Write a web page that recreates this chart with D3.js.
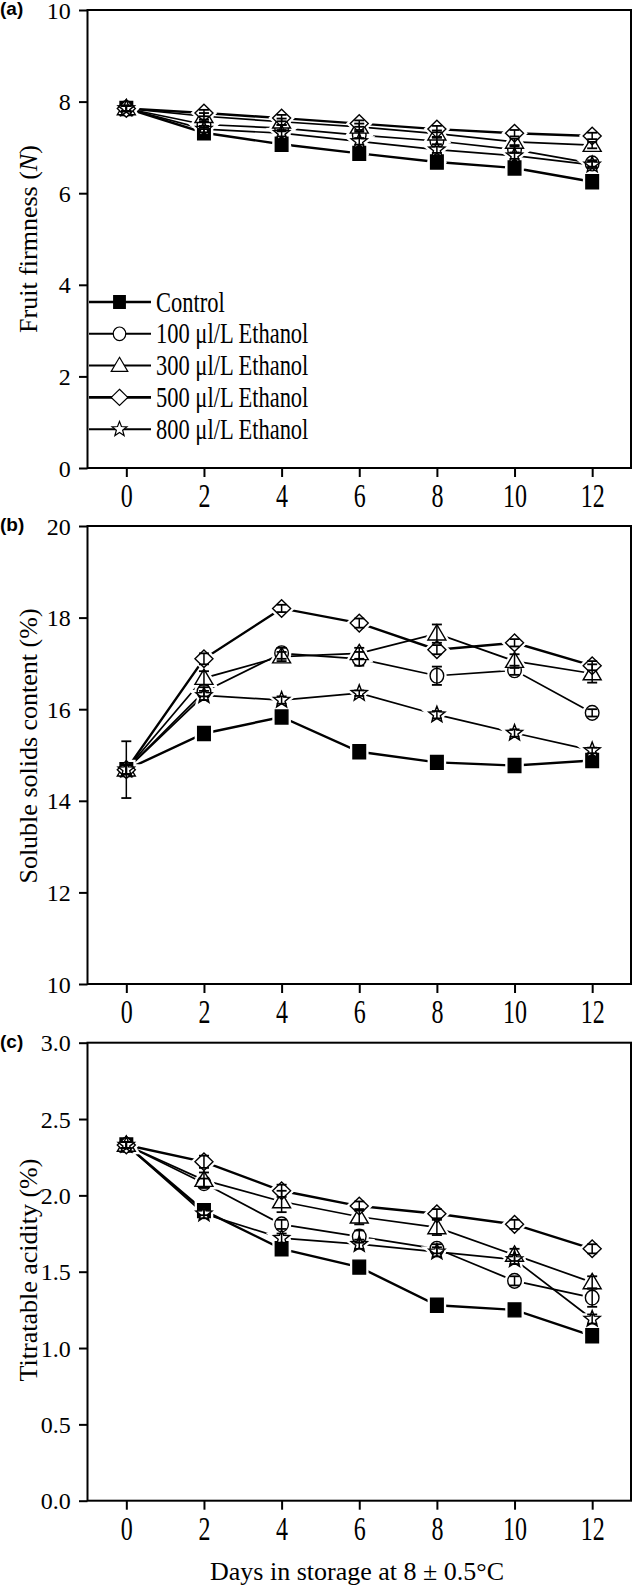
<!DOCTYPE html>
<html>
<head>
<meta charset="utf-8">
<script src="https://cdn.jsdelivr.net/npm/d3@7"></script>
<style>
  body { margin: 0; background: #fff; }
  svg { display: block; }
</style>
</head>
<body>
<svg id="chart"></svg>
<script>
// storage days (x)
const days = [0, 2, 4, 6, 8, 10, 12]
const seriesNames = ['Control', '100 μl/L Ethanol', '300 μl/L Ethanol', '500 μl/L Ethanol', '800 μl/L Ethanol']
const shapes = ['square', 'circle', 'triangle', 'diamond', 'star']

// (a) fruit firmness (N), one row per series
const firmnessMean = [
	[7.85, 7.32, 7.07, 6.87, 6.68, 6.55, 6.25],
	[7.85, 7.50, 7.42, 7.27, 7.14, 6.95, 6.65],
	[7.85, 7.68, 7.56, 7.45, 7.30, 7.12, 7.05],
	[7.85, 7.75, 7.64, 7.52, 7.40, 7.31, 7.25],
	[7.85, 7.40, 7.31, 7.13, 6.95, 6.82, 6.62]
]
const firmnessErr = [
	[0.06, 0.08, 0.08, 0.08, 0.08, 0.08, 0.08],
	[0.06, 0.07, 0.07, 0.07, 0.07, 0.07, 0.07],
	[0.06, 0.07, 0.07, 0.07, 0.07, 0.07, 0.07],
	[0.06, 0.07, 0.07, 0.07, 0.07, 0.07, 0.07],
	[0.06, 0.07, 0.07, 0.07, 0.07, 0.07, 0.07]
]

// (b) soluble solids content (%)
const sscMean = [
	[14.68, 15.47, 15.83, 15.07, 14.84, 14.77, 14.88],
	[14.68, 16.38, 17.22, 17.10, 16.73, 16.85, 15.92],
	[14.68, 16.68, 17.15, 17.22, 17.65, 17.05, 16.78],
	[14.68, 17.10, 18.20, 17.88, 17.30, 17.45, 16.95],
	[14.68, 16.30, 16.20, 16.35, 15.88, 15.48, 15.10]
]
const sscErr = [
	[0.62, 0.06, 0.08, 0.06, 0.06, 0.06, 0.06],
	[0.10, 0.10, 0.12, 0.15, 0.20, 0.10, 0.08],
	[0.10, 0.15, 0.10, 0.12, 0.20, 0.15, 0.20],
	[0.10, 0.12, 0.08, 0.10, 0.10, 0.08, 0.10],
	[0.10, 0.10, 0.08, 0.06, 0.08, 0.08, 0.06]
]

// (c) titratable acidity (%)
const taMean = [
	[2.33, 1.90, 1.65, 1.53, 1.28, 1.25, 1.08],
	[2.33, 2.08, 1.81, 1.73, 1.65, 1.44, 1.33],
	[2.33, 2.10, 1.96, 1.86, 1.79, 1.61, 1.43],
	[2.33, 2.22, 2.03, 1.93, 1.88, 1.81, 1.65],
	[2.33, 1.88, 1.72, 1.68, 1.63, 1.58, 1.19]
]
const taErr = [
	[0.02, 0.03, 0.03, 0.02, 0.02, 0.02, 0.02],
	[0.02, 0.03, 0.03, 0.04, 0.03, 0.03, 0.06],
	[0.02, 0.05, 0.07, 0.05, 0.05, 0.04, 0.04],
	[0.02, 0.04, 0.04, 0.03, 0.03, 0.03, 0.03],
	[0.02, 0.03, 0.03, 0.03, 0.03, 0.03, 0.03]
]

const xTicks = [0, 2, 4, 6, 8, 10, 12]
const firmnessTicks = [0, 2, 4, 6, 8, 10]
const sscTicks = [10, 12, 14, 16, 18, 20]
const taTicks = [0, 0.5, 1.0, 1.5, 2.0, 2.5, 3.0]

const width = 633,
	height = 1587
const left = 87.5,
	right = 631,
	panelH = 458

const svg = d3.select('#chart').attr('width', width).attr('height', height)
svg.append('rect').attr('width', width).attr('height', height).attr('fill', '#fff')

const serif = 'Liberation Serif, Times New Roman, serif'

const x = d3.scaleLinear().domain([-1, 13]).range([left, right])

//marker path around 0,0; k scales it
function markerPath(shape, k) {
	if (shape === 'square') {
		const w = 6.3 * k,
			h = 7 * k
		return `M${-w},${-h}H${w}V${h}H${-w}Z`
	}
	if (shape === 'circle') {
		const rx = 6.8 * k,
			ry = 7.4 * k
		return `M${rx},0A${rx},${ry} 0 1,1 ${-rx},0A${rx},${ry} 0 1,1 ${rx},0Z`
	}
	if (shape === 'triangle') {
		return `M0,${-9 * k}L${9 * k},${6.3 * k}L${-9 * k},${6.3 * k}Z`
	}
	if (shape === 'diamond') {
		return `M0,${-8.8 * k}L${9 * k},0L0,${8.8 * k}L${-9 * k},0Z`
	}
	//star
	const pts = []
	for (let i = 0; i < 10; i++) {
		const r = (i % 2 === 0 ? 8.5 : 3.6) * k
		const a = -Math.PI / 2 + (i * Math.PI) / 5
		pts.push([r * Math.cos(a), r * Math.sin(a)])
	}
	return 'M' + pts.map((p) => p.join(',')).join('L') + 'Z'
}

const lineW = [2.4, 1.7, 1.7, 2.4, 1.7]

function drawPanel(cfg) {
	const top = cfg.top,
		bottom = top + panelH
	const y = d3.scaleLinear().domain(cfg.domain).range([bottom, top])
	const g = svg.append('g')

	// y axis
	const yAxis = d3.axisLeft(y).tickValues(cfg.ticks).tickFormat(cfg.format).tickSize(8.5).tickPadding(8.3)
	const ya = g.append('g').attr('transform', `translate(${left},0)`).call(yAxis)
	ya.select('.domain').remove()
	ya.selectAll('line').attr('stroke', '#000').attr('stroke-width', 2)
	ya.selectAll('text')
		.attr('font-family', serif)
		.attr('font-size', 24)
		.attr('fill', '#000')
		.attr('dy', '0.34em')

	// x axis
	const xAxis = d3.axisBottom(x).tickValues(xTicks).tickSize(9).tickPadding(0)
	const xa = g.append('g').attr('transform', `translate(0,${bottom})`).call(xAxis)
	xa.select('.domain').remove()
	xa.selectAll('line').attr('stroke', '#000').attr('stroke-width', 2)
	xa.selectAll('text')
		.attr('font-family', serif)
		.attr('font-size', 24)
		.attr('fill', '#000')
		.attr('y', null)
		.attr('dy', null)
		.attr('transform', 'translate(0,39) scale(1,1.42)')

	// frame
	g.append('rect')
		.attr('x', left)
		.attr('y', top)
		.attr('width', right - left)
		.attr('height', panelH)
		.attr('fill', 'none')
		.attr('stroke', '#000')
		.attr('stroke-width', 2)

	// panel letter
	g.append('text')
		.attr('x', 0)
		.attr('y', top + 5)
		.attr('font-family', 'Liberation Sans, Arial, sans-serif')
		.attr('font-weight', 'bold')
		.attr('font-size', 19)
		.text(cfg.letter)

	// y title
	const yt = g.append('text')
		.attr('transform', `translate(37,${cfg.titleY}) rotate(-90)`)
		.attr('text-anchor', 'middle')
		.attr('font-family', serif)
		.attr('font-size', 26)
	cfg.title.forEach((t) => {
		yt.append('tspan').attr('font-style', t.italic ? 'italic' : null).text(t.s)
	})

	const line = d3
		.line()
		.x((d, i) => x(days[i]))
		.y((d) => y(d))

	// lines
	cfg.mean.forEach((vals, s) => {
		g.append('path')
			.attr('d', line(vals))
			.attr('fill', 'none')
			.attr('stroke', '#000')
			.attr('stroke-width', lineW[s])
	})

	// white gap round the symbols
	cfg.mean.forEach((vals, s) => {
		g.selectAll(null)
			.data(vals)
			.enter()
			.append('path')
			.attr('d', markerPath(shapes[s], 1))
			.attr('transform', (d, i) => `translate(${x(days[i])},${y(d)})`)
			.attr('fill', '#fff')
			.attr('stroke', '#fff')
			.attr('stroke-width', 6)
	})

	// symbols
	cfg.mean.forEach((vals, s) => {
		g.selectAll(null)
			.data(vals)
			.enter()
			.append('path')
			.attr('d', markerPath(shapes[s], 1))
			.attr('transform', (d, i) => `translate(${x(days[i])},${y(d)})`)
			.attr('fill', s === 0 ? '#000' : '#fff')
			.attr('stroke', '#000')
			.attr('stroke-width', 1.4)
	})

	// error bars
	cfg.mean.forEach((vals, s) => {
		const eb = g.selectAll(null)
			.data(vals)
			.enter()
			.append('g')
			.attr('transform', (d, i) => `translate(${x(days[i])},0)`)
		const err = cfg.err[s]
		eb.append('line')
			.attr('y1', (d, i) => y(d - err[i]))
			.attr('y2', (d, i) => y(d + err[i]))
			.attr('stroke', '#000')
			.attr('stroke-width', 1.5)
		;[1, -1].forEach((sign) => {
			eb.append('line')
				.attr('x1', -5)
				.attr('x2', 5)
				.attr('y1', (d, i) => y(d + sign * err[i]))
				.attr('y2', (d, i) => y(d + sign * err[i]))
				.attr('stroke', '#000')
				.attr('stroke-width', 1.8)
		})
	})
	return g
}

const ga = drawPanel({
	top: 10,
	domain: [0, 10],
	ticks: firmnessTicks,
	format: d3.format('d'),
	letter: '(a)',
	title: [{ s: 'Fruit firmness (' }, { s: 'N', italic: true }, { s: ')' }],
	titleY: 239,
	mean: firmnessMean,
	err: firmnessErr
})

drawPanel({
	top: 526,
	domain: [10, 20],
	ticks: sscTicks,
	format: d3.format('d'),
	letter: '(b)',
	title: [{ s: 'Soluble solids content (%)' }],
	titleY: 746,
	mean: sscMean,
	err: sscErr
})

drawPanel({
	top: 1042.7,
	domain: [0, 3],
	ticks: taTicks,
	format: d3.format('.1f'),
	letter: '(c)',
	title: [{ s: 'Titratable acidity (%)' }],
	titleY: 1270,
	mean: taMean,
	err: taErr
})

// legend inside panel (a)
const legend = ga
	.selectAll('.legend')
	.data(seriesNames)
	.enter()
	.append('g')
	.attr('class', 'legend')
	.attr('transform', (d, i) => `translate(0,${302 + i * 31.8})`)

legend
	.append('line')
	.attr('x1', 89)
	.attr('x2', 151)
	.attr('stroke', '#000')
	.attr('stroke-width', (d, i) => lineW[i] + 0.3)
legend
	.append('path')
	.attr('d', (d, i) => markerPath(shapes[i], 0.92))
	.attr('transform', 'translate(119.5,0)')
	.attr('fill', (d, i) => (i === 0 ? '#000' : '#fff'))
	.attr('stroke', '#000')
	.attr('stroke-width', 1.2)
legend
	.append('text')
	.attr('transform', 'translate(156,9.5) scale(1,1.3)')
	.attr('font-family', serif)
	.attr('font-size', 22.5)
	.text((d) => d)

// x title
svg.append('text')
	.attr('x', 357)
	.attr('y', 1580)
	.attr('text-anchor', 'middle')
	.attr('font-family', serif)
	.attr('font-size', 26)
	.text('Days in storage at 8 ± 0.5°C')
</script>
</body>
</html>
